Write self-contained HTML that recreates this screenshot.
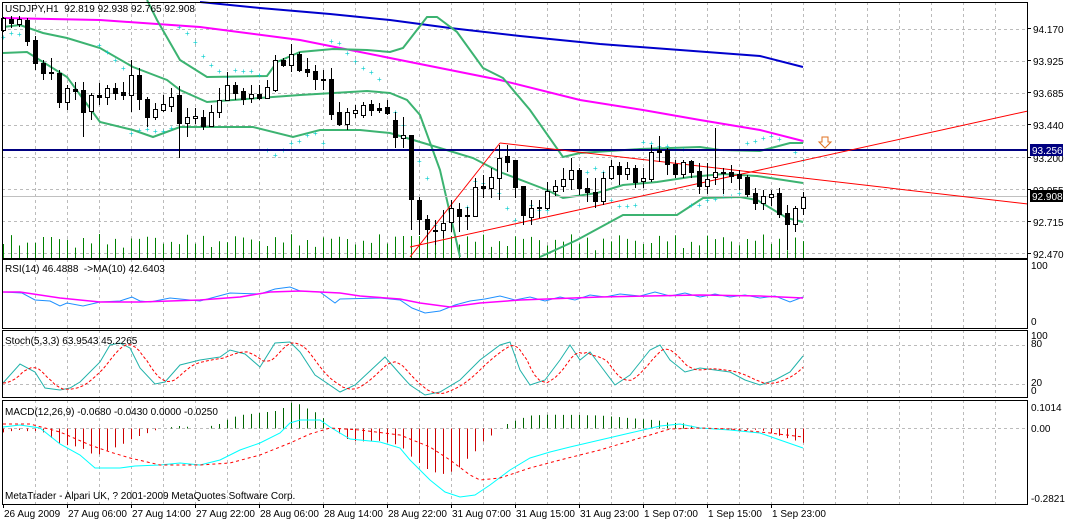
<!DOCTYPE html>
<html><head><meta charset="utf-8"><style>
html,body{margin:0;padding:0;background:#fff;}
svg{display:block;font-family:"Liberation Sans",sans-serif;font-size:10px;}
</style></head><body>
<svg id="c" width="1065" height="522" xmlns="http://www.w3.org/2000/svg"></svg>
<script>
var s=[];
function L(x1,y1,x2,y2,c,w,d){s.push('<line x1="'+x1+'" y1="'+y1+'" x2="'+x2+'" y2="'+y2+'" stroke="'+c+'" stroke-width="'+(w||1)+'"'+(d?' stroke-dasharray="'+d+'"':'')+'/>');}
function P(pts,c,w,d){s.push('<polyline fill="none" points="'+pts.map(function(p){return p[0]+','+p[1]}).join(' ')+'" stroke="'+c+'" stroke-width="'+(w||1)+'"'+(d?' stroke-dasharray="'+d+'"':'')+'/>');}
function T(x,y,t,c,a){s.push('<text x="'+x+'" y="'+y+'" fill="'+(c||'#000')+'"'+(a?' '+a:'')+'>'+t+'</text>');}
function interp(pts,x){if(x<=pts[0][0])return pts[0][1];for(var i=1;i<pts.length;i++){if(x<=pts[i][0]){var a=pts[i-1],b=pts[i];return a[1]+(b[1]-a[1])*(x-a[0])/(b[0]-a[0]);}}return pts[pts.length-1][1];}
var panels=[[2,2,258],[2,259,328],[2,330,397],[2,400,504]];
panels.forEach(function(p){for(var x=35.5;x<1028;x+=32)L(x,p[1],x,p[2],'#bbb',1,'3,3');});
[29.5,61.5,93.5,125.5,157.5,189.5,221.5,253.5].forEach(function(y){L(2,y,1028,y,'#bbb',1,'3,3');});
L(2,345.5,1028,345.5,'#bbb',1,'3,3');L(2,384.5,1028,384.5,'#bbb',1,'3,3');L(2,428.5,1028,428.5,'#bbb',1,'3,3');
for(var i=0;i<101;i++){var cx=3+8*i+0.5;var h=6+Math.abs(Math.sin(i*1.7)*10)+Math.abs(Math.cos(i*0.53)*8);if(i>=50&&i<=56)h=22;L(cx,258,cx,258-h,'#008000');}
P([[200,2],[260,8],[330,14],[390,20],[450,28],[520,36],[600,44],[680,50],[760,56],[803,67]],'#0000cc',2);
P([[2,18],[100,20],[200,27],[300,40],[390,58],[500,80],[580,100],[643,110],[700,120],[760,130],[803,141]],'#ff00ff',2);
var g='#3cb371';
P([[147,0],[157,20],[180,60],[207,77],[267,76],[277,62],[300,52],[333,49],[367,50],[390,52],[403,48],[427,17],[437,17],[457,32],[483,68],[503,78],[530,110],[563,157],[580,153],[640,149],[700,147],[720,150],[760,151],[790,143],[803,143]],g,2);
P([[3,27],[20,25],[43,33],[67,38],[100,48],[133,67],[167,80],[180,90],[207,102],[233,100],[300,95],[367,91],[390,93],[407,100],[420,115],[440,170],[460,257]],g,2);
P([[3,53],[27,52],[67,77],[100,122],[133,130],[153,137],[180,127],[253,127],[293,137],[320,130],[360,130],[390,133],[430,145],[473,158],[500,172],[547,190],[563,198],[597,193],[623,185],[657,182],[690,177],[723,174],[757,176],[803,183]],g,2);
P([[540,257],[577,240],[623,215],[677,215],[703,198],[740,197],[757,200],[787,218],[803,222]],g,2);
var sar=[[3,37],[11,33],[19,34],[99,45],[107,52],[115,60],[123,68],[131,133],[139,130],[147,129],[155,131],[163,131],[171,128],[179,27],[187,33],[195,42],[203,56],[211,65],[219,71],[227,77],[235,70],[243,71],[251,71],[259,75],[267,150],[275,155],[283,150],[291,143],[299,141],[307,135],[315,133],[323,143],[331,41],[339,43],[347,53],[355,61],[363,68],[371,72],[379,79],[395,112],[403,125],[411,145],[419,161],[427,178],[435,225],[443,225],[451,215],[459,212],[467,207],[475,181],[483,183],[491,187],[499,193],[507,208],[515,220],[531,205],[539,210],[547,210],[563,180],[571,176],[579,174],[587,172],[595,168],[603,172],[611,200],[619,206],[627,206],[635,205],[643,142],[651,143],[659,146],[667,146],[675,149],[683,149],[691,205],[699,205],[707,200],[715,199],[723,196],[731,196],[739,193],[747,143],[755,141],[763,138],[771,136],[779,139],[795,152],[803,160]];
sar.forEach(function(p){s.push('<text x="'+(p[0]-2)+'" y="'+(p[1]+3)+'" fill="#00cccc" font-size="8">+</text>');});
L(2,196.5,1028,196.5,'#c0c0c0',1);
L(2,150,1028,150,'#000080',2);
L(410,257,500,143,'#ff0000',1);L(500,143,1028,204,'#ff0000',1);L(410,247,1028,111,'#ff0000',1);
var C=[[30,18,17,32],[19,23,16,28],[24,19,16,27],[20,41,18,46],[40,63,36,70],[63,73,60,80],[72,73,58,80],[73,102,70,108],[102,88,85,110],[89,91,82,100],[90,112,82,137],[111,95,93,120],[95,97,83,105],[97,88,85,105],[88,93,83,100],[92,95,82,100],[95,75,60,112],[75,99,68,110],[99,117,97,127],[117,109,103,120],[110,104,95,112],[106,97,88,112],[95,123,86,158],[123,117,108,137],[118,116,108,124],[117,126,110,130],[126,112,105,127],[112,100,88,118],[100,85,72,100],[85,93,82,100],[91,99,88,105],[98,94,85,103],[94,98,85,100],[98,87,80,98],[90,60,55,92],[60,65,58,67],[65,54,44,72],[54,70,52,72],[69,72,58,77],[71,79,65,90],[80,79,70,90],[79,114,68,120],[112,124,102,126],[124,112,108,130],[113,110,105,118],[115,105,102,118],[104,110,100,116],[108,110,103,113],[107,113,100,115],[120,137,112,148],[138,135,117,148],[135,199,135,230],[200,219,197,235],[219,229,215,240],[230,231,220,245],[230,223,210,238],[222,208,200,232],[209,216,203,232],[215,216,207,230],[216,187,178,217],[186,188,175,198],[188,177,168,198],[178,158,145,200],[156,162,145,172],[160,187,160,198],[186,215,186,225],[217,208,200,225],[208,207,200,218],[208,191,182,210],[191,186,180,196],[186,179,168,192],[179,170,158,190],[170,188,168,195],[188,192,178,202],[192,201,178,208],[201,178,172,205],[178,166,160,180],[166,174,162,185],[174,168,162,180],[168,182,165,188],[181,178,168,188],[179,152,145,182],[150,152,136,162],[150,164,148,175],[164,174,160,178],[174,162,160,178],[161,172,160,178],[171,186,163,194],[186,179,163,194],[177,172,128,185],[172,173,168,194],[172,176,165,183],[174,178,170,190],[177,194,175,197],[193,203,188,210],[203,196,190,210],[197,194,190,206],[193,214,188,218],[213,224,205,250],[224,208,206,232],[208,197,192,215]];
C.forEach(function(c,i){var x=3+8*i;var o=c[0],cl=c[1];L(x+0.5,c[2],x+0.5,c[3],'#000',1);var t=Math.min(o,cl),b=Math.max(o,cl);if(b-t<1)b=t+1;
 if(cl<o)s.push('<rect x="'+(x-1.5)+'" y="'+(t+0.5)+'" width="4" height="'+(b-t)+'" fill="#fff" stroke="#000"/>');
 else s.push('<rect x="'+(x-2)+'" y="'+t+'" width="5" height="'+(b-t+1)+'" fill="#000"/>');});
s.push('<path d="M822,137 h6 v5 h3 l-6,6 l-6,-6 h3 z" fill="#fff" stroke="#e07020"/>');
P([[3,292],[22,293],[35,300],[50,301],[60,306],[67,303],[83,306],[100,302],[120,301],[132,297],[140,301],[150,302],[170,298],[200,301],[215,297],[230,293],[260,294],[275,289],[290,287],[300,291],[320,292],[335,303],[340,299],[380,298],[400,300],[412,308],[425,313],[440,311],[455,305],[470,301],[485,299],[500,296],[515,300],[530,297],[545,301],[560,297],[575,300],[590,295],[605,297],[620,294],[640,296],[655,292],[670,296],[685,293],[700,297],[715,294],[730,297],[745,295],[760,298],[775,296],[790,302],[803,297]],'#1e90ff',1);
P([[3,292],[20,292],[60,298],[100,302],[140,302],[200,300],[240,297],[270,292],[300,291],[340,293],[360,296],[400,299],[420,303],[450,307],[480,303],[520,300],[600,297],[700,295],[760,296],[803,298]],'#ff00ff',1.5);
var st=[[3,383],[20,364],[35,372],[45,388],[60,390],[70,388],[80,382],[100,362],[110,345],[120,343],[130,348],[140,368],[155,384],[165,382],[180,365],[200,360],[220,357],[230,350],[245,354],[260,367],[275,343],[290,342],[300,352],[315,375],[340,392],[355,385],[385,357],[400,374],[410,385],[425,395],[440,392],[460,380],[480,360],[500,345],[510,342],[520,370],[530,385],[545,380],[560,360],[570,345],[580,360],[590,352],[600,365],[615,385],[630,375],[650,350],[660,345],[670,360],[685,372],[700,368],[715,370],[730,372],[745,380],[760,385],[775,380],[790,372],[803,356]];
P(st,'#20b2aa',1);
var sig=[];for(var x=3;x<=803;x+=4){sig.push([x,((interp(st,x-3)+interp(st,x-10)+interp(st,x-17))/3).toFixed(1)]);}
P(sig,'#ff0000',1,'3,2');
var m=[[3,427],[20,425],[40,428],[60,444],[80,455],[95,468],[120,468],[135,466],[160,465],[180,463],[200,465],[220,460],[240,450],[260,443],[280,433],[290,423],[300,420],[320,420],[330,427],[350,439],[380,442],[400,448],[410,460],[430,480],[445,492],[460,497],[475,495],[490,485],[510,470],[530,458],[550,452],[570,447],[600,440],[630,433],[660,426],[680,424],[700,428],[730,430],[760,433],[780,440],[803,448]];
var sg=[[3,424],[30,424],[60,432],[90,445],[110,452],[130,458],[160,465],[200,465],[230,463],[260,455],[290,443],[310,434],[330,428],[360,430],[400,435],[430,447],[450,460],[470,475],[480,480],[500,478],[530,468],[560,460],[600,450],[640,438],[670,429],[700,428],[730,429],[770,433],[803,437]];
for(var i=0;i<101;i++){var x=3+8*i;var d=(interp(sg,x)-interp(m,x))*1.3;if(Math.abs(d)<1)continue;L(x+0.5,428.5,x+0.5,428.5-d,d>0?'#006400':'#cc0000',1);}
P(m,'#00ffff',1);P(sg,'#ff0000',1,'3,3');
panels.forEach(function(p){s.push('<rect x="2.5" y="'+(p[1]+0.5)+'" width="1025" height="'+(p[2]-p[1])+'" fill="none" stroke="#000"/>');});
T(5,12,'USDJPY,H1&#160; 92.819 92.938 92.765 92.908');
T(5,272,'RSI(14) 46.4888&#160; -&gt;MA(10) 42.6403');
T(5,344,'Stoch(5,3,3) 63.9543 45.2265');
T(5,415,'MACD(12,26,9) -0.0680 -0.0430 0.0000 -0.0250');
T(5,499,'MetaTrader - Alpari UK, ? 2001-2009 MetaQuotes Software Corp.');
[['94.170',33],['93.925',65],['93.685',97],['93.440',129],['93.200',162],['92.955',194],['92.715',226],['92.470',258]].forEach(function(a){L(1028,a[1]-4.5,1031,a[1]-4.5,'#000');T(1033,a[1],a[0]);});
s.push('<rect x="1030" y="144" width="33" height="12" fill="#000080"/>');T(1032,154,'93.256','#fff');
s.push('<rect x="1030" y="190" width="33" height="12" fill="#000"/>');T(1032,200,'92.908','#fff');
T(1031,269,'100');T(1031,325,'0');
T(1031,339,'100');T(1031,347,'80');T(1031,386,'20');T(1031,394,'0');
T(1031,411,'0.1014');T(1031,432,'0.00');T(1031,502,'-0.2821');
var tl=['26 Aug 2009','27 Aug 06:00','27 Aug 14:00','27 Aug 22:00','28 Aug 06:00','28 Aug 14:00','28 Aug 22:00','31 Aug 07:00','31 Aug 15:00','31 Aug 23:00','1 Sep 07:00','1 Sep 15:00','1 Sep 23:00'];
tl.forEach(function(t,i){var x=i==0?3:67+64*(i-1);L(x+0.5,504,x+0.5,508,'#000');T(x+1,517,t);});
document.getElementById('c').innerHTML=s.join('');
</script>
</body></html>
